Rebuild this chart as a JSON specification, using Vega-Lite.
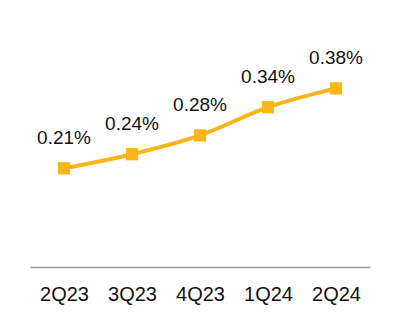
{
  "$schema": "https://vega.github.io/schema/vega-lite/v6.json",
  "autosize": "none",
  "width": 340,
  "height": 235,
  "padding": {"left": 30, "top": 32, "right": 30, "bottom": 69},
  "background": "white",
  "data": {"values": [
    {"q": "2Q23", "v": 0.21, "label": "0.21%"},
    {"q": "3Q23", "v": 0.24, "label": "0.24%"},
    {"q": "4Q23", "v": 0.28, "label": "0.28%"},
    {"q": "1Q24", "v": 0.34, "label": "0.34%"},
    {"q": "2Q24", "v": 0.38, "label": "0.38%"}
  ]},
  "encoding": {
    "x": {"field": "q", "type": "nominal", "sort": null, "title": null,
      "scale": {"paddingInner": 0, "paddingOuter": 0},
      "axis": {"domainColor": "#999999", "domainWidth": 1.5, "ticks": false, "labelAngle": 0,
        "labelFont": "Liberation Sans", "labelFontSize": 20, "labelColor": "#111111", "labelPadding": 17, "grid": false}},
    "y": {"field": "v", "type": "quantitative", "scale": {"domain": [0, 0.5]}, "axis": null}
  },
  "layer": [
    {"mark": {"type": "line", "color": "#FBB41A", "strokeWidth": 4, "interpolate": "monotone"}},
    {"mark": {"type": "square", "color": "#FBB41A", "opacity": 1, "filled": true, "size": 150}},
    {"mark": {"type": "text", "font": "Liberation Sans", "fontSize": 19, "color": "#111111", "baseline": "middle", "dy": -30},
     "encoding": {"text": {"field": "label"}}}
  ],
  "config": {"view": {"stroke": null}}
}
